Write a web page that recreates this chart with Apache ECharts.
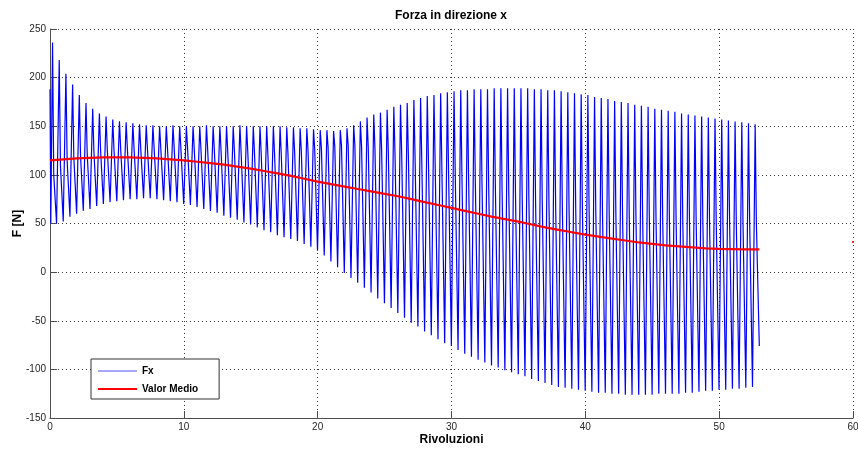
<!DOCTYPE html>
<html>
<head>
<meta charset="utf-8">
<script src="https://cdn.jsdelivr.net/npm/echarts@6/dist/echarts.min.js"></script>
<style>
  html, body { margin: 0; padding: 0; background: #ffffff; }
  #chart { width: 858px; height: 452px; }
</style>
</head>
<body>
<div id="chart"></div>
<script>
// Fx signal: two load cycles per revolution. Each cycle is described by its
// peak, the shoulder on the falling edge and the trough that follows.
const CYCLE = 0.5;          // revolutions per load cycle
const FIRST_PEAK = 0.19;    // revolution of the first peak
const SHOULDER_IN = 0.09;   // shoulder start after each peak
const SHOULDER_OUT = 0.16;  // shoulder end after each peak
const TROUGH_AT = 0.30;     // trough position after each peak

const START = [0, 188];
const FIRST_DIP = [0.06, 50];
const END = [53.0, -76];

const PEAKS = [
  236, 218, 204, 193, 182, 174, 168, 163, 160, 157,
  155, 154, 153, 152, 151, 151, 150, 150, 151, 150,
  150, 150, 150, 151, 150, 150, 150, 150, 151, 150,
  150, 150, 150, 150, 150, 149, 149, 148, 148, 147,
  146, 146, 145, 146, 148, 151, 155, 159, 162, 164,
  167, 170, 172, 174, 177, 179, 181, 182, 184, 185,
  186, 187, 187, 188, 188, 188, 189, 189, 189, 189,
  189, 189, 188, 188, 187, 187, 186, 185, 184, 183,
  182, 180, 179, 178, 176, 175, 174, 172, 171, 170,
  168, 167, 166, 165, 163, 162, 161, 160, 159, 158,
  157, 156, 155, 154, 153, 152
];

const SHOULDERS = [
  100, 110, 115, 118, 120, 122, 124, 125, 126, 126,
  127, 127, 127, 127, 127, 127, 127, 127, 127, 127,
  127, 126, 126, 126, 125, 125, 124, 124, 123, 123,
  122, 122, 121, 121, 121, 122, 123, 124, 125, 126,
  127, 128, 129, 130, 130, 130, 129, 128, 127, 125,
  123, 121, 120, 118, 116, 114, 112, 110, 107, 104,
  101, 98, 95, 93, 90, 88, 86, 84, 82, 81,
  79, 77, 75, 74, 72, 70, 69, 68, 67, 66,
  65, 64, 63, 62, 61, 60, 59, 58, 58, 57,
  56, 56, 55, 55, 54, 54, 53, 53, 52, 52,
  52, 51, 51, 51, 50, 50
];

const TROUGHS = [
  50, 52, 57, 60, 63, 65, 68, 70, 72, 73,
  74, 75, 75, 76, 76, 75, 74, 73, 72, 70,
  69, 67, 65, 63, 61, 58, 56, 54, 51, 49,
  46, 43, 41, 38, 36, 34, 32, 29, 26, 22,
  17, 11, 5, -1, -6, -11, -16, -21, -27, -32,
  -37, -42, -47, -52, -56, -61, -65, -69, -73, -76,
  -80, -84, -87, -90, -93, -96, -98, -101, -103, -105,
  -107, -110, -112, -114, -116, -118, -119, -120, -121, -122,
  -123, -124, -124, -125, -125, -126, -126, -126, -126, -126,
  -125, -125, -125, -125, -124, -124, -123, -122, -122, -121,
  -121, -120, -120, -119, -118
];

// Running mean ("Valor Medio") per revolution
const MEAN_X = [
  0, 1, 2, 3, 4, 5, 6, 7, 8, 9, 10, 11, 12, 13, 14, 15, 16, 17, 18, 19,
  20, 21, 22, 23, 24, 25, 26, 27, 28, 29, 30, 31, 32, 33, 34, 35, 36, 37, 38, 39,
  40, 41, 42, 43, 44, 45, 46, 47, 48, 49, 50, 51, 52, 53
];
const MEAN_Y = [
  115, 116, 117, 117.5, 118, 118, 118, 117.5, 117, 116,
  115, 113.5, 112, 110.5, 108.5, 106.5, 104, 101.5, 99, 96,
  93, 90.5, 88, 85.5, 83, 80.5, 78, 75, 72, 69,
  66, 63, 60, 57, 54.5, 52, 49, 46, 43.5, 41,
  38.5, 36.5, 34.5, 32.5, 30.5, 29, 27.5, 26.5, 25.5, 24.5,
  24, 23.7, 23.4, 23.3
];

// Isolated mean sample at the last revolution
const MEAN_TAIL = [[60, 31]];

const TITLE = 'Forza in direzione x';
const X_NAME = 'Rivoluzioni';
const Y_NAME = 'F [N]';

// Assemble the Fx polyline from the per-cycle values
const fx = [START, FIRST_DIP];
for (let k = 0; k < PEAKS.length; k++) {
  const t0 = FIRST_PEAK + k * CYCLE;
  fx.push([t0, PEAKS[k]]);
  fx.push([t0 + SHOULDER_IN, SHOULDERS[k]]);
  fx.push([t0 + SHOULDER_OUT, SHOULDERS[k]]);
  if (k < TROUGHS.length) fx.push([t0 + TROUGH_AT, TROUGHS[k]]);
}
fx.push(END);

const mean = MEAN_X.map((x, i) => [x, MEAN_Y[i]]);

const FONT = '"Liberation Sans", Arial, Helvetica, sans-serif';
const AXIS_COLOR = '#4d4d4d';
const GRID_COLOR = '#3a3a3a';

const chart = echarts.init(document.getElementById('chart'), null, { renderer: 'canvas' });

chart.setOption({
  animation: false,
  backgroundColor: '#ffffff',
  textStyle: { fontFamily: FONT },
  grid: { left: 50, right: 5, top: 29, bottom: 34, containLabel: false, outerBoundsMode: 'none' },
  graphic: [{
    type: 'text',
    x: 451,
    y: 16,
    style: {
      text: TITLE,
      textAlign: 'center',
      textVerticalAlign: 'middle',
      font: 'bold 12px ' + FONT,
      fill: '#000000'
    }
  }],
  legend: {
    orient: 'vertical',
    left: 91,
    top: 359,
    padding: [7, 21, 5, 7],
    itemWidth: 39,
    itemHeight: 14,
    itemGap: 8,
    symbolKeepAspect: true,
    backgroundColor: '#ffffff',
    borderColor: '#333333',
    borderWidth: 1,
    borderRadius: 0,
    textStyle: { fontFamily: FONT, fontSize: 10, fontWeight: 'bold', color: '#000000' },
    data: [
      { name: 'Fx', icon: 'path://M0,0H39V1.5H0Z', itemStyle: { color: '#8a8aff' } },
      { name: 'Valor Medio', icon: 'path://M0,0H39V2.2H0Z', itemStyle: { color: '#ff0000' } }
    ]
  },
  xAxis: {
    type: 'value',
    min: 0,
    max: 60,
    interval: 10,
    name: X_NAME,
    nameLocation: 'middle',
    nameGap: 16,
    nameMoveOverlap: false,
    nameTextStyle: { fontFamily: FONT, fontSize: 12, fontWeight: 'bold', color: '#000000' },
    axisLine: { show: true, onZero: false, lineStyle: { color: AXIS_COLOR, width: 1 } },
    axisTick: { show: true, inside: true, length: 7, lineStyle: { color: AXIS_COLOR } },
    axisLabel: { fontFamily: FONT, fontSize: 10, color: '#262626', margin: 4 },
    splitLine: { show: true, lineStyle: { color: GRID_COLOR, width: 1, type: [1, 3] } }
  },
  yAxis: {
    type: 'value',
    min: -150,
    max: 250,
    interval: 50,
    name: Y_NAME,
    nameLocation: 'middle',
    nameGap: 26,
    nameMoveOverlap: false,
    nameTextStyle: { fontFamily: FONT, fontSize: 12, fontWeight: 'bold', color: '#000000' },
    axisLine: { show: true, onZero: false, lineStyle: { color: AXIS_COLOR, width: 1 } },
    axisTick: { show: true, inside: true, length: 7, lineStyle: { color: AXIS_COLOR } },
    axisLabel: { fontFamily: FONT, fontSize: 10, color: '#262626', margin: 4 },
    splitLine: { show: true, lineStyle: { color: GRID_COLOR, width: 1, type: [1, 3] } }
  },
  series: [
    {
      name: 'Fx',
      type: 'line',
      data: fx,
      symbol: 'none',
      showSymbol: false,
      sampling: null,
      large: false,
      progressive: 0,
      lineStyle: { color: '#0000ff', width: 1.2 },
      itemStyle: { color: '#0000ff' },
      z: 2
    },
    {
      name: 'Valor Medio',
      type: 'line',
      data: mean,
      symbol: 'none',
      showSymbol: false,
      lineStyle: { color: '#ff0000', width: 2.2 },
      itemStyle: { color: '#ff0000' },
      z: 3
    },
    {
      name: 'tail',
      type: 'scatter',
      data: MEAN_TAIL,
      symbol: 'rect',
      symbolSize: 2,
      clip: false,
      itemStyle: { color: '#ff0000' },
      z: 3
    }
  ]
});
</script>
</body>
</html>
